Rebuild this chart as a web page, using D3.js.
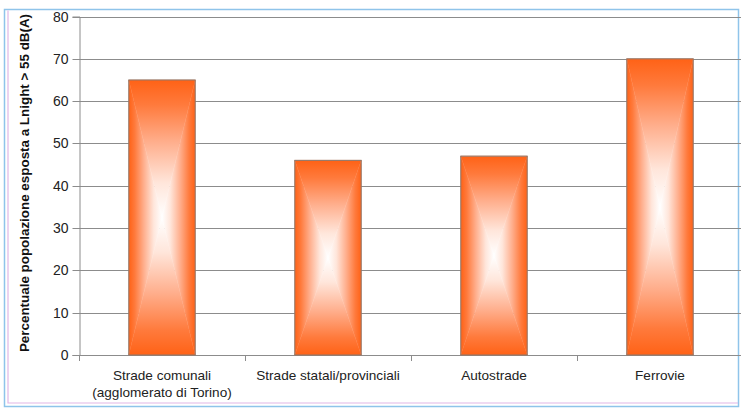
<!DOCTYPE html>
<html>
<head>
<meta charset="utf-8">
<script src="https://cdn.jsdelivr.net/npm/d3@7"></script>
<style>
  html, body { margin: 0; padding: 0; background: #fff; }
  svg { display: block; }
</style>
</head>
<body>
<svg id="chart" width="741" height="410"></svg>
<script>
// Categories and values
const categories = [
  ["Strade comunali", "(agglomerato di Torino)"],
  ["Strade statali/provinciali"],
  ["Autostrade"],
  ["Ferrovie"]
];
const values = [65, 46, 47, 70];
const yTicks = [0, 10, 20, 30, 40, 50, 60, 70, 80];
const yTitle = "Percentuale popolazione esposta a Lnight > 55 dB(A)";

const svg = d3.select("#chart");
const m = { left: 79, right: 743, top: 16.5, bottom: 355 };

// frame
svg.append("rect").attr("x", 4.5).attr("y", 9.5).attr("width", 734).attr("height", 397)
  .attr("fill", "#fff").attr("stroke", "#8fc4ea").attr("stroke-width", 1.5);
svg.append("path").attr("d", `M8,10.5 V403 H738`)
  .attr("fill", "none").attr("stroke", "#e2b6e6").attr("stroke-width", 1.2);

const x = d3.scaleBand().domain(d3.range(categories.length)).range([m.left, m.right]).paddingInner(0.6).paddingOuter(0.3);
const xb = d3.scaleBand().domain(d3.range(categories.length)).range([m.left, m.right]);
const y = d3.scaleLinear().domain([0, 80]).range([m.bottom, m.top]);

// gradients: orange edges fading to white at the centre
const defs = svg.append("defs");
const stops = [[0, "#ff6216"], [0.18, "#ff7a3c"], [0.45, "#ffae8c"], [0.75, "#ffe6db"], [1, "#ffffff"]];
const dirs = { top: [0, 0, 0, 1], bottom: [0, 1, 0, 0], left: [0, 0, 1, 0], right: [1, 0, 0, 0] };
Object.entries(dirs).forEach(([k, d]) => {
  const g = defs.append("linearGradient").attr("id", "g-" + k)
    .attr("x1", d[0]).attr("y1", d[1]).attr("x2", d[2]).attr("y2", d[3]);
  stops.forEach(s => g.append("stop").attr("offset", s[0]).attr("stop-color", s[1]));
});

// gridlines
svg.append("g").selectAll("line").data(yTicks).join("line")
  .attr("x1", m.left).attr("x2", m.right)
  .attr("y1", d => Math.round(y(d)) + 0.5).attr("y2", d => Math.round(y(d)) + 0.5)
  .attr("stroke", "#8c8c8c").attr("stroke-width", 1);

// y axis
const yAxis = svg.append("g").attr("transform", `translate(${m.left + 0.5},0)`)
  .call(d3.axisLeft(y).tickValues(yTicks).tickSize(7).tickPadding(4));
yAxis.select(".domain").attr("stroke", "#8c8c8c");
yAxis.selectAll(".tick line").attr("stroke", "#8c8c8c");
yAxis.selectAll(".tick text").attr("font-family", "Liberation Sans, Arial, sans-serif")
  .attr("font-size", 14).attr("fill", "#222");
yAxis.selectAll(".tick").attr("transform", d => `translate(0,${Math.round(y(d)) + 0.5})`);

// x axis ticks between categories
const xTickPos = d3.range(categories.length + 1).map(i => m.left + i * xb.bandwidth());
svg.append("g").selectAll("line").data(xTickPos).join("line")
  .attr("x1", d => Math.round(d) + 0.5).attr("x2", d => Math.round(d) + 0.5)
  .attr("y1", m.bottom).attr("y2", m.bottom + 6)
  .attr("stroke", "#8c8c8c");

// bars built from four triangles meeting at the centre
const bars = svg.append("g").selectAll("g").data(values).join("g");
bars.each(function (v, i) {
  const g = d3.select(this);
  const x0 = x(i), x1 = x(i) + x.bandwidth();
  const y0 = y(v), y1 = y(0);
  const cx = (x0 + x1) / 2, cy = (y0 + y1) / 2;
  const tris = [
    ["top", [[x0, y0], [x1, y0], [cx, cy]]],
    ["bottom", [[x0, y1], [x1, y1], [cx, cy]]],
    ["left", [[x0, y0], [x0, y1], [cx, cy]]],
    ["right", [[x1, y0], [x1, y1], [cx, cy]]]
  ];
  tris.forEach(([k, pts]) => {
    g.append("path").attr("d", "M" + pts.map(p => p.join(",")).join("L") + "Z")
      .attr("fill", `url(#g-${k})`).attr("stroke", `url(#g-${k})`).attr("stroke-width", 0.4);
  });
  g.append("rect").attr("x", x0).attr("y", y0).attr("width", x1 - x0).attr("height", y1 - y0)
    .attr("fill", "none").attr("stroke", "#8a7a72").attr("stroke-width", 1);
});

// category labels
const lab = svg.append("g").selectAll("text").data(categories).join("text")
  .attr("x", (d, i) => xb(i) + xb.bandwidth() / 2)
  .attr("y", 380)
  .attr("text-anchor", "middle")
  .attr("font-family", "Liberation Sans, Arial, sans-serif")
  .attr("font-size", 13.6).attr("fill", "#222");
lab.each(function (d) {
  d3.select(this).selectAll("tspan").data(d).join("tspan")
    .attr("x", d3.select(this).attr("x"))
    .attr("dy", (t, j) => j === 0 ? 0 : 17)
    .text(t => t);
});

// y title
svg.append("text")
  .attr("transform", `translate(29,183) rotate(-90)`)
  .attr("text-anchor", "middle")
  .attr("font-family", "Liberation Sans, Arial, sans-serif")
  .attr("font-weight", "bold").attr("font-size", 13.4).attr("fill", "#111")
  .text(yTitle);
</script>
</body>
</html>
